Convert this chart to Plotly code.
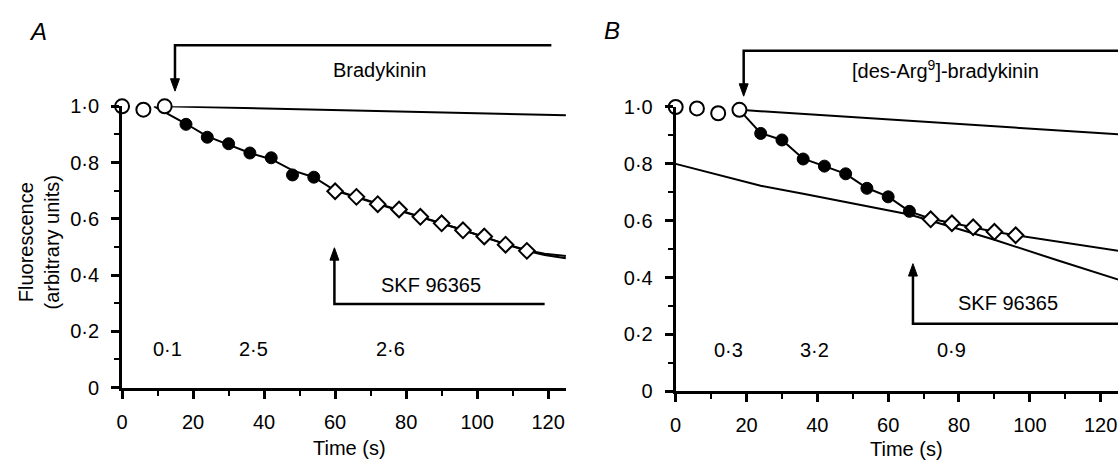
import plotly.graph_objects as go

W, H = 1118, 470
FONT = "Liberation Sans, Arial, Helvetica, sans-serif"
FS = 20

# ---------------- data ----------------
# Panel A : Bradykinin
a_open_t = [0, 6, 12]
a_open_f = [1.0, 0.988, 1.0]
a_fill_t = [18, 24, 30, 36, 42, 48, 54]
a_fill_f = [0.936, 0.890, 0.867, 0.834, 0.817, 0.756, 0.748]
a_diam_t = [60, 66, 72, 78, 84, 90, 96, 102, 108, 114]
a_diam_f = [0.698, 0.678, 0.652, 0.633, 0.607, 0.584, 0.559, 0.537, 0.508, 0.486]
a_base_t = [12, 125]
a_base_f = [1.0, 0.968]
a_fit1_t = [9, 18, 24, 30, 36, 42, 48, 54, 60, 72, 84, 96, 108, 114, 119, 125]
a_fit1_f = [1.0, 0.938, 0.893, 0.864, 0.834, 0.812, 0.772, 0.748, 0.700, 0.652,
            0.607, 0.560, 0.510, 0.488, 0.476, 0.468]
a_fit2_t = [60, 72, 84, 96, 108, 114, 119, 125]
a_fit2_f = [0.702, 0.655, 0.609, 0.560, 0.510, 0.486, 0.471, 0.460]
a_rate_lbl = ["0·1", "2·5", "2·6"]
a_rate_t = [12.8, 36.9, 75.6]
a_rate_f = 0.136

# Panel B : [des-Arg9]-bradykinin
b_open_t = [0, 6, 12, 18]
b_open_f = [1.0, 0.995, 0.978, 0.99]
b_fill_t = [24, 30, 36, 42, 48, 54, 60, 66]
b_fill_f = [0.907, 0.884, 0.817, 0.792, 0.765, 0.714, 0.684, 0.633]
b_diam_t = [72, 78, 84, 90, 96]
b_diam_f = [0.605, 0.591, 0.577, 0.561, 0.549]
b_base_t = [18, 125]
b_base_f = [0.99, 0.904]
b_fit1_t = [18, 24, 30, 36, 42, 48, 54, 60, 66]
b_fit1_f = [0.99, 0.908, 0.884, 0.818, 0.792, 0.765, 0.715, 0.685, 0.633]
b_fit2_t = [66, 72, 78, 84, 90, 96, 125]
b_fit2_f = [0.633, 0.607, 0.592, 0.577, 0.561, 0.549, 0.494]
b_low_t = [0, 24, 36, 52, 66, 78, 90, 108, 125]
b_low_f = [0.80, 0.723, 0.695, 0.656, 0.622, 0.578, 0.533, 0.460, 0.393]
b_rate_lbl = ["0·3", "3·2", "0·9"]
b_rate_t = [14.8, 39.2, 78.0]
b_rate_f = 0.145

# drug application brackets: (onset time, end time, bracket level, arrow tip)
a_brady = (14.9, 120.9, 1.217, 1.054)
a_skf = (59.8, 119.0, 0.297, 0.497)
b_brady = (19.2, 130.0, 1.198, 1.038)
b_skf = (67.0, 130.0, 0.238, 0.449)

x_ticks = [0, 20, 40, 60, 80, 100, 120]
x_ticktext = ["0", "20", "40", "60", "80", "100", "120"]
x_minor = [10, 30, 50, 70, 90, 110]
y_ticks = [0, 0.2, 0.4, 0.6, 0.8, 1.0]
y_ticktext = ["0", "0·2", "0·4", "0·6", "0·8", "1·0"]
y_minor = [0.1, 0.3, 0.5, 0.7, 0.9]

# ---------------- layout geometry ----------------
XA_MAX, XB_MAX = 125.0, 124.9
XA_DOM = [116.7 / W, (116.7 + 125 * 3.57) / W]
YA_DOM = [(H - 395) / H, (H - 100) / H]
XB_DOM = [673.3 / W, 1.0]
YB_DOM = [(H - 399) / H, (H - 100.7) / H]

fig = go.Figure()


def add_panel(xa, ya, open_t, open_f, fill_t, fill_f, diam_t, diam_f, lines):
    for (lt, lf) in lines:
        fig.add_trace(go.Scatter(x=lt, y=lf, mode="lines", xaxis=xa, yaxis=ya,
                                 line=dict(color="black", width=2),
                                 hoverinfo="skip", showlegend=False))
    fig.add_trace(go.Scatter(x=open_t, y=open_f, mode="markers", xaxis=xa, yaxis=ya,
                             marker=dict(symbol="circle", size=14, color="white",
                                         line=dict(color="black", width=2)),
                             cliponaxis=False, showlegend=False))
    fig.add_trace(go.Scatter(x=fill_t, y=fill_f, mode="markers", xaxis=xa, yaxis=ya,
                             marker=dict(symbol="circle", size=12, color="black",
                                         line=dict(color="black", width=1)),
                             cliponaxis=False, showlegend=False))
    fig.add_trace(go.Scatter(x=diam_t, y=diam_f, mode="markers", xaxis=xa, yaxis=ya,
                             marker=dict(symbol="diamond", size=12, color="white",
                                         line=dict(color="black", width=2)),
                             cliponaxis=False, showlegend=False))


add_panel("x", "y", a_open_t, a_open_f, a_fill_t, a_fill_f, a_diam_t, a_diam_f,
          [(a_base_t, a_base_f), (a_fit1_t, a_fit1_f), (a_fit2_t, a_fit2_f)])
add_panel("x2", "y2", b_open_t, b_open_f, b_fill_t, b_fill_f, b_diam_t, b_diam_f,
          [(b_base_t, b_base_f), (b_fit1_t, b_fit1_f), (b_fit2_t, b_fit2_f),
           (b_low_t, b_low_f)])


def xaxis_cfg(domain, xmax, anchor):
    return dict(domain=domain, range=[0, xmax], anchor=anchor, showline=True,
                linecolor="black", linewidth=3, ticks="outside", ticklen=8,
                tickwidth=2.5, tickcolor="black", tickmode="array",
                tickvals=x_ticks, ticktext=x_ticktext,
                tickfont=dict(size=FS, color="black", family=FONT),
                showgrid=False, zeroline=False, ticklabelstandoff=6,
                minor=dict(ticks="outside", ticklen=5, tickwidth=2,
                           tickcolor="black", tickvals=x_minor, showgrid=False),
                fixedrange=True)


def yaxis_cfg(domain, anchor):
    return dict(domain=domain, range=[0, 1.0], anchor=anchor, showline=True,
                linecolor="black", linewidth=3, ticks="outside", ticklen=8,
                tickwidth=2.5, tickcolor="black", tickmode="array",
                tickvals=y_ticks, ticktext=y_ticktext,
                tickfont=dict(size=FS, color="black", family=FONT),
                showgrid=False, zeroline=False, ticklabelstandoff=8,
                minor=dict(ticks="outside", ticklen=5, tickwidth=2,
                           tickcolor="black", tickvals=y_minor, showgrid=False),
                fixedrange=True)


shapes = []
annotations = []


def bracket(xr, yr, xmax, xdom, ydom, br):
    t_on, t_end, level, tip = br
    xpx = (xdom[1] - xdom[0]) * W
    ypx = (ydom[1] - ydom[0]) * H
    head_h = 13 / ypx
    head_w = 4.5 / xpx
    xf = t_on / xmax
    xe = t_end / xmax
    sgn = 1 if level > tip else -1
    base = tip + sgn * head_h
    shapes.append(dict(type="path", xref=xr, yref=yr,
                       path=f"M {xf},{base - sgn * 2 / ypx} L {xf},{level} L {xe},{level}",
                       line=dict(color="black", width=2.5)))
    shapes.append(dict(type="path", xref=xr, yref=yr,
                       path=f"M {xf - head_w},{base} L {xf + head_w},{base} L {xf},{tip} Z",
                       fillcolor="black", line=dict(color="black", width=1)))


bracket("x domain", "y domain", XA_MAX, XA_DOM, YA_DOM, a_brady)
bracket("x domain", "y domain", XA_MAX, XA_DOM, YA_DOM, a_skf)
bracket("x2 domain", "y2 domain", XB_MAX, XB_DOM, YB_DOM, b_brady)
bracket("x2 domain", "y2 domain", XB_MAX, XB_DOM, YB_DOM, b_skf)


def text(xr, yr, x, y, s, size=FS, **kw):
    annotations.append(dict(xref=xr, yref=yr, x=x, y=y, text=s, showarrow=False,
                            font=dict(size=size, color="black", family=FONT),
                            xanchor="center", yanchor="middle", **kw))


# drug labels
text("x domain", "y domain", 72.4 / XA_MAX, 1.13, "Bradykinin")
text("x domain", "y domain", 87.1 / XA_MAX, 0.363, "SKF 96365")
text("x2 domain", "y2 domain", 76.2 / XB_MAX, 1.131, "[des-Arg<sup>9</sup>]-bradykinin")
text("x2 domain", "y2 domain", 93.9 / XB_MAX, 0.31, "SKF 96365")

# rate labels
for lbl, t in zip(a_rate_lbl, a_rate_t):
    text("x", "y", t, a_rate_f, lbl)
for lbl, t in zip(b_rate_lbl, b_rate_t):
    text("x2", "y2", t, b_rate_f, lbl)

# axis titles
text("paper", "paper", 345 / W, 1 - 458 / H, "Time (s)")
text("paper", "paper", 905 / W, 1 - 460 / H, "Time (s)")
text("paper", "paper", 33 / W, 1 - 243 / H, "Fluorescence<br>(arbitrary units)",
     textangle=-90)

# panel letters
annotations.append(dict(xref="paper", yref="paper", x=32 / W, y=1 - 22 / H, text="<i>A</i>",
                        showarrow=False, xanchor="center", yanchor="middle",
                        font=dict(size=24, color="black", family=FONT)))
annotations.append(dict(xref="paper", yref="paper", x=609 / W, y=1 - 20 / H, text="<i>B</i>",
                        showarrow=False, xanchor="center", yanchor="middle",
                        font=dict(size=24, color="black", family=FONT)))

fig.update_layout(
    width=W, height=H,
    margin=dict(l=0, r=0, t=0, b=0),
    paper_bgcolor="white", plot_bgcolor="white",
    font=dict(family=FONT, color="black", size=FS),
    showlegend=False,
    xaxis=xaxis_cfg(XA_DOM, XA_MAX, "y"),
    yaxis=yaxis_cfg(YA_DOM, "x"),
    xaxis2=xaxis_cfg(XB_DOM, XB_MAX, "y2"),
    yaxis2=yaxis_cfg(YB_DOM, "x2"),
    shapes=shapes,
    annotations=annotations,
)

fig.write_html("out.html", config={"displayModeBar": False},
               post_script="document.body.style.margin='0px';"
                           "document.body.style.overflow='hidden';")
